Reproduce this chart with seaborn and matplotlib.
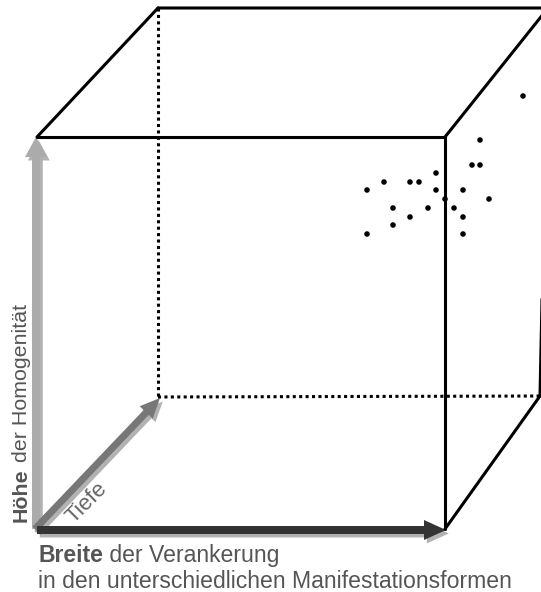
import matplotlib
matplotlib.use('Agg')
import matplotlib.pyplot as plt
import matplotlib.patheffects as pe
from matplotlib.patches import FancyArrow
import seaborn as sns
import pandas as pd

sns.set_style('white')
plt.rcParams['font.family'] = ['Liberation Sans', 'DejaVu Sans']

# point cloud (image pixel coordinates, y pointing down)
point_x = [523, 480, 472, 480, 436, 384, 410, 419, 367, 436, 463,
           445, 489, 393, 428, 454, 410, 463, 393, 367, 463]
point_y = [96, 140, 165, 165, 173, 182, 182, 182, 190, 190, 190,
           199, 199, 208, 208, 208, 217, 217, 225, 234, 234]

# cube corners
front_x = [37, 445, 445]          # top-left, top-right, bottom-right
front_y = [137, 137, 529]
back_x = [158, 548, 540, 158]     # top-left, top-right, bottom-right, bottom-left
back_y = [8, 8, 396, 397]

# axis labels
height_label = ['Höhe', ' der Homogenität']
width_label = ['Breite', ' der Verankerung', 'in den unterschiedlichen Manifestationsformen']
depth_label = 'Tiefe'

fig = plt.figure(figsize=(5.41, 5.92), dpi=100)
ax = fig.add_axes([0, 0, 1, 1])

edge = dict(color='black', lw=2.2, solid_capstyle='round')
dots = dict(color='black', lw=2.2, linestyle=(0, (1, 1.1)))

# solid edges
ax.plot(front_x, front_y, **edge)
ax.plot([front_x[0], back_x[0]], [front_y[0], back_y[0]], **edge)
ax.plot(back_x[:3], back_y[:3], **edge)
ax.plot([front_x[1], back_x[1]], [front_y[1], back_y[1]], **edge)
ax.plot([front_x[2], back_x[2]], [front_y[2], back_y[2]], **edge)
# hidden edges
ax.plot([back_x[0], back_x[3]], [back_y[0], back_y[3]], **dots)
ax.plot([back_x[3], back_x[2]], [back_y[3], back_y[2]], **dots)

shadow = [pe.SimplePatchShadow(offset=(2, -2.5), shadow_rgbFace='black', alpha=0.3), pe.Normal()]

def arrow(x0, y0, x1, y1, col, w, hw, hl):
    a = FancyArrow(x0, y0, x1 - x0, y1 - y0, width=w, head_width=hw, head_length=hl,
                   length_includes_head=True, color=col, lw=0)
    a.set_path_effects(shadow)
    ax.add_patch(a)

origin = (37, 529)
arrow(36, origin[1], 36, front_y[0], '#ababab', 8, 22, 20)
arrow(origin[0] - 2, origin[1], back_x[3] + 2, back_y[3] + 1, '#777777', 7, 18, 20)
arrow(origin[0], origin[1] + 1, front_x[2] + 1, front_y[2] + 1, '#333333', 8, 20, 22)

df = pd.DataFrame({'x': point_x, 'y': point_y})
sns.scatterplot(data=df, x='x', y='y', color='black', s=16, edgecolor='none', ax=ax)
ax.set_xlim(0, 541)
ax.set_ylim(592, 0)
ax.axis('off')

txt = '#555555'
renderer = fig.canvas.get_renderer()

# vertical label
t1 = ax.text(27, 522, height_label[0], rotation=90, rotation_mode='anchor', ha='left',
             va='baseline', fontsize=15.4, fontweight='bold', color=txt)
w1 = t1.get_window_extent(renderer).height
ax.text(27, 522 - w1, height_label[1], rotation=90, rotation_mode='anchor', ha='left',
        va='baseline', fontsize=15.4, color=txt)

# horizontal label
t2 = ax.text(38, 562, width_label[0], ha='left', va='baseline', fontsize=16.6,
             fontweight='bold', color=txt)
w2 = t2.get_window_extent(renderer).width
ax.text(38 + w2, 562, width_label[1], ha='left', va='baseline', fontsize=16.6, color=txt)
ax.text(38, 588, width_label[2], ha='left', va='baseline', fontsize=16.6, color=txt)

# depth label
ax.text(87, 503, depth_label, rotation=45, rotation_mode='anchor', ha='center', va='center',
        fontsize=16, color='#666666')

fig.savefig('out.png', dpi=100)
